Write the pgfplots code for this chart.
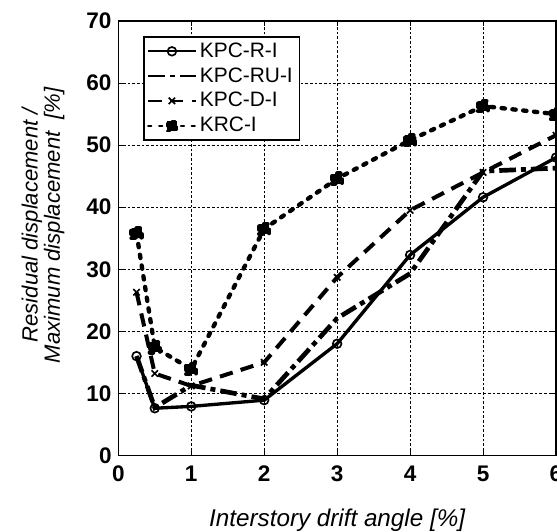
\documentclass[border=0pt]{standalone}
\usepackage{pgfplots}
\pgfplotsset{compat=1.18}
\usepackage{fontspec}
\setmainfont{Liberation Sans}

\begin{document}
\begin{tikzpicture}
\begin{axis}[
  scale only axis, width=262pt, height=260pt,
  xmin=0, xmax=6, ymin=0, ymax=70,
  xtick={0,1,...,6}, ytick={0,10,...,70},
  grid=major,
  grid style={black, line width=0.55pt, dash pattern=on 1.6pt off 1.2pt},
  axis line style={black, line width=0.9pt},
  tick style={black, line width=0.6pt},
  tick align=inside, major tick length=3pt,
  /pgf/number format/assume math mode=true,
  ticklabel style={font=\fontsize{13.5}{15}\selectfont\bfseries},
  xticklabel style={yshift=-2.5pt},
  yticklabel style={xshift=-0.5pt},
  xlabel={Interstory drift angle [\%]},
  ylabel={Residual displacement /\\Maximum displacement\ \ [\%]},
  every axis x label/.style={at={(axis description cs:0.5,-0.163)},anchor=base,
    font=\fontsize{14.5}{16}\selectfont\itshape},
  every axis y label/.style={at={(axis description cs:-0.172,0.53)},rotate=90,anchor=center,
    align=center,font=\fontsize{13.2}{13.4}\selectfont\itshape},
  legend style={at={(axis description cs:0.057,0.965)},anchor=north west,
    draw=black, line width=0.8pt, font=\fontsize{12.5}{14}\selectfont,
    inner xsep=2pt, inner ysep=1.5pt, row sep=0.6pt, cells={anchor=west}},
  legend image code/.code={\draw[mark repeat=2,mark phase=2,line width=1.1pt]
    plot coordinates {(0cm,0cm) (0.5cm,0cm) (1cm,0cm)};},
  every mark/.append style={solid},
]
\addplot[black, line width=2pt, mark=o, mark size=2.6pt,
  mark options={fill=white, line width=1pt}]
  coordinates {(0.25,16.0) (0.5,7.6) (1,7.9) (2,8.9) (3,18.0) (4,32.3) (5,41.6) (6,48.0)};
\addlegendentry{KPC-R-I}
\addplot[black, line width=2.8pt, dash pattern=on 10pt off 3pt on 3pt off 3pt]
  coordinates {(0.25,16.0) (0.5,7.7) (1,11.3) (2,9.1) (3,22.1) (4,29.3) (5,45.8) (6,46.3)};
\addlegendentry{KPC-RU-I}
\addplot[black, line width=2.4pt, dash pattern=on 8pt off 5pt, mark=x, mark size=2.7pt,
  mark options={line width=1pt}]
  coordinates {(0.25,26.3) (0.5,13.2) (1,11.2) (2,15.0) (3,28.7) (4,39.5) (5,45.6) (6,51.6)};
\addlegendentry{KPC-D-I}
\addplot[black, line width=2.6pt, line cap=round, dash pattern=on 2pt off 4.5pt,
  mark=square*, mark size=3pt]
  coordinates {(0.25,35.8) (0.5,17.4) (1,13.9) (2,36.5) (3,44.6) (4,50.8) (5,56.3) (6,55.0)};
\addlegendentry{KRC-I}
\end{axis}
\pgfresetboundingbox
\useasboundingbox ([shift={(-70.8pt,-45.6pt)}]current axis.south west)
  rectangle ([shift={(0.6pt,12.6pt)}]current axis.north east);
\end{tikzpicture}
\end{document}
